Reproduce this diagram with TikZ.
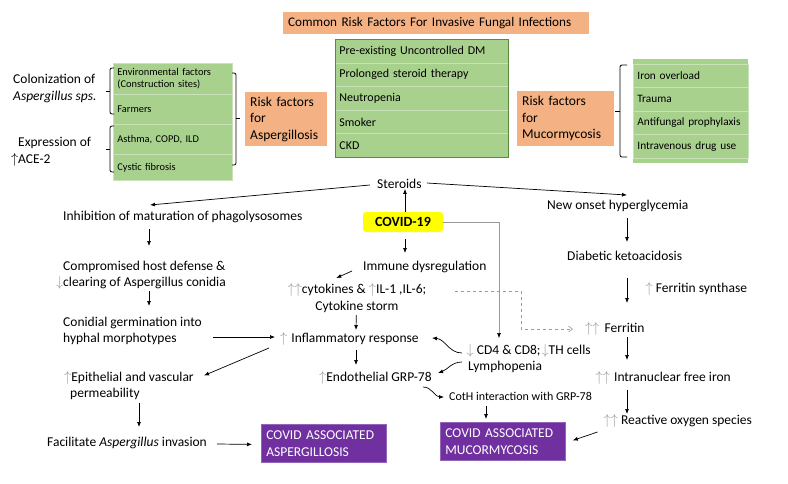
\documentclass[tikz,border=0pt]{standalone}
\usepackage{fontspec}
\setmainfont{Carlito}
\usetikzlibrary{arrows.meta,calc}
\definecolor{gfill}{HTML}{A9D18E}
\definecolor{gline}{HTML}{C9E2B8}
\definecolor{gdark}{HTML}{5B8A3C}
\definecolor{ofill}{HTML}{F4B183}
\definecolor{pfill}{HTML}{7030A0}
\definecolor{yfill}{HTML}{FFFF00}
\definecolor{agray}{HTML}{9A9A9A}
\newcommand{\gua}{{\color{agray}$\uparrow$}}
\newcommand{\gda}{{\color{agray}$\downarrow$}}
\newcommand{\guu}{{\color{agray}$\uparrow$$\uparrow$}}
\begin{document}
\begin{tikzpicture}[x=1pt,y=-1pt,
  font=\fontsize{13.5}{16.5}\selectfont,
  txt/.style={anchor=west,inner sep=0pt,align=left},
  arr/.style={-{Latex[length=5pt,width=4pt]},line width=0.7pt},
  cell/.style={draw=gline,line width=0.8pt,fill=gfill,anchor=north west,inner xsep=4pt,inner ysep=0pt,align=left},
  obox/.style={fill=ofill,anchor=north west,align=left,inner xsep=5pt,inner ysep=0pt},
  pbox/.style={fill=pfill,draw=pfill!75!white,line width=0.8pt,text=white,anchor=north west,align=left,inner xsep=5pt,inner ysep=0pt,text width=115pt,minimum height=38pt,font=\fontsize{13.5}{17}\selectfont}
]
\useasboundingbox (0,0) rectangle (788,483);
\fill[white] (0,0) rectangle (788,483);

% title
\node[fill=ofill,anchor=north west,inner xsep=5pt,inner ysep=0pt,text width=296pt,minimum height=22pt,align=left,font=\fontsize{13.2}{15}\selectfont] (title) at (283,12) {Common Risk Factors For Invasive Fungal Infections};

% central green box
\begin{scope}[every node/.style={cell,text width=165pt,minimum height=23.6pt,font=\fontsize{12}{14}\selectfont}]
\node (c1) at (335,39) {Pre-existing Uncontrolled DM};
\node (c2) at (335,62.6) {Prolonged steroid therapy};
\node (c3) at (335,86.2) {Neutropenia};
\node (c4) at (335,109.8) {Smoker};
\node (c5) at (335,133.4) {CKD};
\end{scope}
\draw[gdark,line width=0.9pt] (c1.north west) rectangle (c5.south east);

% left green box
\begin{scope}[every node/.style={cell,text width=111pt,font=\fontsize{10.4}{12}\selectfont}]
\node[minimum height=31pt] (l1) at (113,63) {Environmental factors\\(Construction sites)};
\node[minimum height=30pt] (l2) at (113,94) {Farmers};
\node[minimum height=30pt] (l3) at (113,124) {Asthma, COPD, ILD};
\node[minimum height=26pt] (l4) at (113,154) {Cystic fibrosis};
\end{scope}

% right green box
\fill[gfill] (633,59) rectangle (748,163);
\begin{scope}[every node/.style={cell,text width=107pt,minimum height=23.5pt,font=\fontsize{11.3}{13}\selectfont}]
\node (r1) at (633,63.5) {Iron overload};
\node (r2) at (633,87) {Trauma};
\node (r3) at (633,110.5) {Antifungal prophylaxis};
\node (r4) at (633,134) {Intravenous drug use};
\end{scope}

% orange boxes
\node[obox,text width=72pt,minimum height=54pt] (asp) at (245,92) {Risk factors\\for\\Aspergillosis};
\node[obox,text width=87pt,minimum height=55pt] (muc) at (517,91) {Risk factors\\for\\Mucormycosis};

% left labels
\node[txt] (colon) at (13,88.5) {Colonization of\\\textit{Aspergillus sps.}};
\node[txt] (expr) at (18,152) {Expression of\\\llap{$\uparrow$}ACE-2};

% brackets
\begin{scope}[line width=0.8pt,rounded corners=2pt]
\draw (114,68) -- (110,68) -- (110,114) -- (114,114);
\draw (110,91) -- (106,91);
\draw (114,126) -- (110,126) -- (110,172) -- (114,172);
\draw (110,149) -- (106,149);
\draw (232,73) -- (236,73) -- (236,165) -- (232,165);
\draw (236,118) -- (240,118);
\draw (627,65) -- (620,65) -- (620,157) -- (627,157);
\draw (620,111) -- (615,111);
\end{scope}

% center flow
\node[txt] (steroids) at (377,184) {Steroids};
\node[fill=yfill,rounded corners=3pt,minimum width=80pt,minimum height=20pt,inner sep=0pt,font=\fontsize{14}{16}\selectfont\bfseries] (covid) at (403,222) {COVID-19};
\node[txt] (immune) at (363,267) {Immune dysregulation};
\node[txt,align=center] (cyto) at (287.3,298) {\guu cytokines \& \gua IL-1 ,IL-6;\\Cytokine storm};
\node[txt] (infl) at (280,339) {\gua\hspace{4pt}Inflammatory response};
\node[txt] (endo) at (319,378) {\gua Endothelial GRP-78};
\node[txt] (cd4) at (466.5,351) {\gda\hspace{3pt}CD4 \& CD8;\hspace{1pt}\gda TH cells};
\node[txt] (lympho) at (468,367) {Lymphopenia};
\node[txt,font=\fontsize{12}{14}\selectfont] (coth) at (449,396) {CotH interaction with GRP-78};
\node[pbox] (cam) at (440,422) {COVID ASSOCIATED\\MUCORMYCOSIS};

% left flow
\node[txt] (inhib) at (63,217) {Inhibition of maturation of phagolysosomes};
\node[txt] (compr) at (63,275) {Compromised host defense \&\\\llap{\gda}clearing of Aspergillus conidia};
\node[txt] (conid) at (63,331) {Conidial germination into\\hyphal morphotypes};
\node[txt] (epith) at (64,385.5) {\gua Epithelial and vascular\\\hspace{6pt}permeability};
\node[txt] (facil) at (47,443) {Facilitate \textit{Aspergillus} invasion};
\node[pbox] (caa) at (261,424) {COVID ASSOCIATED\\ASPERGILLOSIS};

% right flow
\node[txt] (hyper) at (547,206) {New onset hyperglycemia};
\node[txt] (dka) at (567,256) {Diabetic ketoacidosis};
\node[txt] (fsyn) at (645.5,289) {\gua\hspace{3pt}Ferritin synthase};
\node[txt] (ferr) at (585,329) {\guu\hspace{5pt}Ferritin};
\node[txt] (iron) at (595.5,378) {\guu\hspace{4pt}Intranuclear free iron};
\node[txt] (ros) at (603.5,421) {\guu\hspace{3pt}Reactive oxygen species};

% connectors
\draw[arr] ($(steroids.west)+(-7,1)$) -- ($(inhib.west)+(87,-12)$);
\draw[arr] ($(steroids.east)+(5,-1)$) -- ($(hyper.west)+(80,-11)$);
\draw[arr] ($(covid.north)+(2,0)$) -- ($(covid.north |- steroids.south)+(2,0)$);
\draw[arr] ($(covid.south)+(2,7)$) -- ($(covid.south |- immune.west)+(2,-14)$);
\draw[arr] ($(immune.west)+(-11,4)$) -- ($(cyto.west)+(49,-20)$);
\draw[arr] ($(cyto.west)+(69,17)$) -- ($(infl.west)+(76,-9)$);
\draw[arr] ($(conid.west)+(150,6)$) -- ($(infl.west)+(-5,-2)$);
\draw[arr] ($(infl.west)+(-11,9)$) -- ($(epith.west)+(140,-10)$);
\draw[arr] ($(infl.west)+(76,11)$) -- ($(endo.west)+(37,-13)$);
\draw[gray!80,line width=0.6pt,-{Latex[length=5pt,width=4pt,color=black]}] (covid.east) -| ($(cd4.west)+(32.5,-13)$);
\draw[agray,dashed,line width=0.6pt,-{Straight Barb[length=4pt,width=6pt]}] ($(cyto.west)+(168,-7)$) -| ($(ferr.west)+(-64,0)$) -- ($(ferr.west)+(-12,0)$);
\draw[arr] ($(cd4.west)+(-4.5,2)$) to[out=180,in=-5] ($(infl.west)+(152,-1)$);
\draw[arr] ($(lympho.west)+(-6,-5)$) to[out=180,in=20] ($(endo.west)+(119,-5)$);
\draw[arr] ($(endo.west)+(104,9)$) to[out=0,in=180] ($(coth.west)+(-5,1)$);
\draw[arr] ($(coth.west)+(37,10)$) -- ($(cam.north west)+(46,-3)$);
\draw[arr] ($(ros.west)+(-6,11)$) -- ($(cam.east)+(7,-1)$);
\draw[arr] ($(hyper.west)+(80,12)$) -- ($(dka.west)+(60,-14)$);
\draw[arr] ($(dka.west)+(60,22)$) -- ($(ferr.west)+(42,-26)$);
\draw[arr] ($(ferr.west)+(42,8)$) -- ($(iron.west)+(31.5,-18)$);
\draw[arr] ($(iron.west)+(31.5,12)$) -- ($(ros.west)+(23.5,-7)$);
\draw[arr] ($(inhib.west)+(86,12)$) -- ($(compr.west)+(86,-29)$);
\draw[arr] ($(compr.west)+(86,16)$) -- ($(conid.west)+(86,-25)$);
\draw[arr] ($(epith.west)+(75,17)$) -- ($(facil.west)+(92,-16)$);
\draw[arr] ($(facil.west)+(170,1)$) -- ($(caa.west)+(-9,1)$);
\end{tikzpicture}
\end{document}
